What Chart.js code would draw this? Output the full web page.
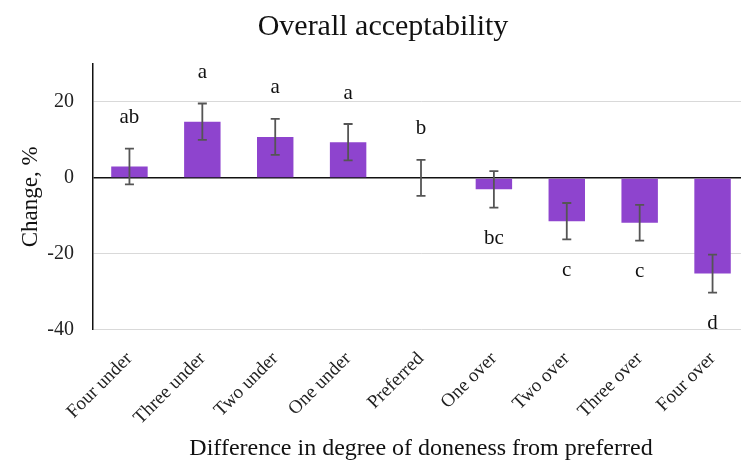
<!DOCTYPE html>
<html>
<head>
<meta charset="utf-8">
<script src="https://cdn.jsdelivr.net/npm/chart.js@4/dist/chart.umd.min.js"></script>
<style>
html,body{margin:0;padding:0;background:#fff;overflow:hidden;}
#wrap{width:741px;height:463px;position:relative;overflow:hidden;}
</style>
</head>
<body>
<div id="wrap"><canvas id="c" width="749" height="463"></canvas></div>
<script>
const categories = ["Four under","Three under","Two under","One under","Preferred","One over","Two over","Three over","Four over"];
const changeValues = [3.0, 14.8, 10.8, 9.4, 0, -3.0, -11.4, -11.8, -25.2];
const errorValues = [4.7, 4.8, 4.75, 4.8, 4.75, 4.8, 4.8, 4.7, 5.0];
const letters = ["ab","a","a","a","b","bc","c","c","d"];
const yTickValues = [-40, -20, 0, 20];

const FONT = "'Liberation Serif', 'Times New Roman', serif";

const errPlugin = {
  id: 'errLetters',
  afterDatasetsDraw(chart) {
    const ctx = chart.ctx;
    const meta = chart.getDatasetMeta(0);
    const y = chart.scales.y;
    ctx.save();
    meta.data.forEach((bar, i) => {
      const v = changeValues[i], e = errorValues[i];
      const x = bar.x;
      const yt = y.getPixelForValue(v + e);
      const yb = y.getPixelForValue(v - e);
      ctx.strokeStyle = '#555';
      ctx.lineWidth = 1.8;
      ctx.beginPath();
      ctx.moveTo(x, yt); ctx.lineTo(x, yb);
      ctx.moveTo(x - 4.5, yt); ctx.lineTo(x + 4.5, yt);
      ctx.moveTo(x - 4.5, yb); ctx.lineTo(x + 4.5, yb);
      ctx.stroke();
      ctx.fillStyle = '#111';
      ctx.font = '21px ' + FONT;
      ctx.textAlign = 'center';
      ctx.textBaseline = 'middle';
      const ly = v >= 0 ? yt - 31 : yb + 31;
      ctx.fillText(letters[i], x, ly);
    });
    ctx.restore();
  }
};

new Chart(document.getElementById('c'), {
  type: 'bar',
  data: {
    labels: categories,
    datasets: [{
      data: changeValues,
      backgroundColor: '#8e44ce',
      borderWidth: 0,
      barPercentage: 0.5,
      categoryPercentage: 1.0
    }]
  },
  options: {
    responsive: false,
    animation: false,
    layout: { padding: { left: 17, right: 0, top: 4, bottom: 0 } },
    plugins: {
      legend: { display: false },
      tooltip: { enabled: false },
      title: {
        display: true,
        text: 'Overall acceptability',
        color: '#111',
        font: { family: FONT, size: 30, weight: 'normal' },
        padding: { top: 5, bottom: 19 }
      }
    },
    scales: {
      x: {
        border: { display: false },
        grid: { display: false },
        afterFit(scale) { scale.paddingLeft = 0; scale.paddingRight = 0; scale.height -= 1; },
        ticks: {
          minRotation: 45, maxRotation: 45,
          color: '#222',
          font: { family: FONT, size: 19 },
          padding: 10
        },
        title: {
          display: true,
          text: 'Difference in degree of doneness from preferred',
          color: '#111',
          font: { family: FONT, size: 24 },
          padding: { top: -4, bottom: 0 }
        }
      },
      y: {
        min: -40, max: 30,
        afterBuildTicks(scale) {
          scale.ticks = yTickValues.map(v => ({ value: v }));
        },
        afterFit(scale) { scale.width = 76; },
        border: { display: true, color: '#111', width: 1.5 },
        grid: {
          drawTicks: false,
          color: (c) => c.tick && c.tick.value === 0 ? '#111' : '#d9d9d9',
          lineWidth: (c) => c.tick && c.tick.value === 0 ? 1.5 : 1
        },
        ticks: {
          color: '#222',
          font: { family: FONT, size: 20 },
          padding: 19
        },
        title: {
          display: true,
          text: 'Change, %',
          color: '#111',
          font: { family: FONT, size: 23 },
          padding: { top: 0, bottom: 4 }
        }
      }
    }
  },
  plugins: [errPlugin]
});
</script>
</body>
</html>
